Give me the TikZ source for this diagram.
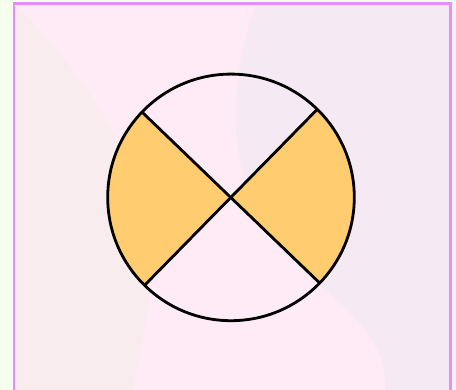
\documentclass[tikz,border=0pt]{standalone}
\usetikzlibrary{calc}
\definecolor{outerbg}{RGB}{244,255,238}
\definecolor{rightbg}{RGB}{232,246,255}
\definecolor{pinkbg}{RGB}{254,235,246}
\definecolor{beigebg}{RGB}{249,236,238}
\definecolor{lavbg}{RGB}{245,233,244}
\definecolor{frame}{RGB}{230,140,255}
\definecolor{sectorfill}{RGB}{255,204,112}
\tikzset{
  outline/.style={draw=black, line width=2.8pt},
  sector/.style={fill=sectorfill},
}
\begin{document}
\begin{tikzpicture}[x=1pt,y=1pt]
\useasboundingbox (0,0) rectangle (456,390);
% backgrounds
\fill[outerbg] (0,0) rectangle (456,390);
\fill[rightbg] (452,0) rectangle (456,390);
\fill[pinkbg] (14,0) rectangle (450.7,386.3);
\fill[beigebg] (15,386) .. controls (100,300) and (160,200) .. (150,100)
   .. controls (145,60) and (138,30) .. (132,0) -- (15,0) -- cycle;
\fill[lavbg] (256,386) .. controls (225,300) and (225,200) .. (290,130)
   .. controls (350,80) and (388,50) .. (385,0) -- (450,0) -- (450,386) -- cycle;
\draw[frame, line width=2.6pt] (14,-5) -- (14,386.3) -- (450.7,386.3) -- (450.7,-5);
% circle
\coordinate (c) at (231,192.6);
\coordinate (ul) at ($(c)+(136.2:123.3)$);
\coordinate (lr) at ($(c)+(-44:123.3)$);
\coordinate (ur) at ($(c)+(45.6:123.3)$);
\coordinate (ll) at ($(c)+(225.5:123.3)$);
\fill[sector] (c) -- (lr) arc[start angle=-44, end angle=45.6, radius=123.3] -- cycle;
\fill[sector] (c) -- (ul) arc[start angle=136.2, end angle=225.5, radius=123.3] -- cycle;
\draw[outline] (ul) -- (lr);
\draw[outline] (ur) -- (ll);
\node[outline, circle, minimum size=246.6pt, inner sep=0pt] (disc) at (c) {};
\end{tikzpicture}
\end{document}
